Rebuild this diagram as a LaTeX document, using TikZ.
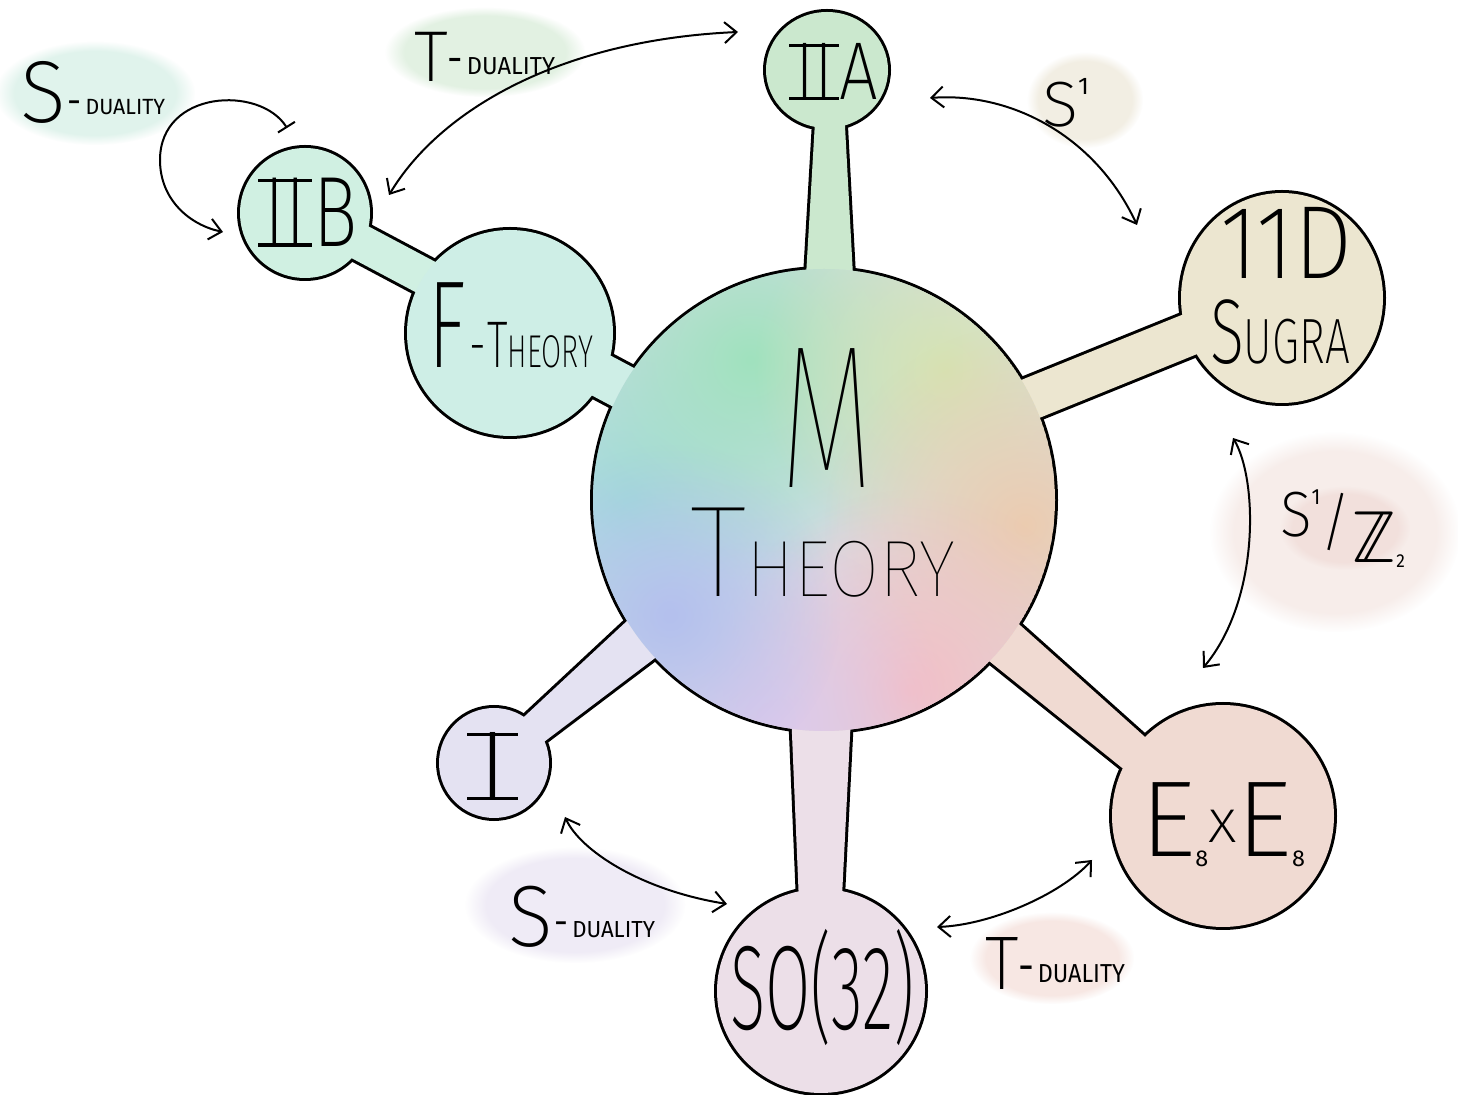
\documentclass[tikz,border=0pt]{standalone}
\usepackage{fontspec}
\usepackage{graphicx}
\usetikzlibrary{calc,fadings,arrows.meta}

\newcommand\pickfamily[3]{\IfFontExistsTF{#2}{\newfontfamily#1{#2}}{#3}}
\pickfamily\fthin{FiraSans-Thin.otf}{\pickfamily\fthin{Fira Sans Thin}{\pickfamily\fthin{FiraSans-Light.otf}{\newfontfamily\fthin{Fira Sans}}}}
\pickfamily\fxl{FiraSans-ExtraLight.otf}{\pickfamily\fxl{Fira Sans ExtraLight}{\pickfamily\fxl{FiraSans-Light.otf}{\newfontfamily\fxl{Fira Sans}}}}
\newfontfamily\freg{Fira Sans}
\pickfamily\fbb{latinmodern-math.otf}{\newfontfamily\fbb{DejaVu Sans}}

% roman numeral with bars spanning the strokes
\newcommand\Rn[1]{\setbox0=\hbox{\kern0.09em #1\kern0.09em}%
  \rlap{\rule{\wd0}{0.035em}}%
  \rlap{\raisebox{\dimexpr\ht0-0.035em\relax}{\rule{\wd0}{0.035em}}}%
  \box0}
\newcommand\fs[1]{\fontsize{#1}{#1}\selectfont}

% tapered stem between two coordinates
\newcommand\stem[5]{\path[#5] ($(#1)!#3!90:(#2)$) -- ($(#2)!#4!-90:(#1)$) -- ($(#2)!#4!90:(#1)$) -- ($(#1)!#3!-90:(#2)$) -- cycle;}

\definecolor{gIIA}{RGB}{203,232,206}
\definecolor{gIIB}{RGB}{208,240,226}
\definecolor{gF}{RGB}{206,238,230}
\definecolor{gD}{RGB}{236,230,208}
\definecolor{gE}{RGB}{240,218,210}
\definecolor{gSO}{RGB}{236,223,232}
\definecolor{gI}{RGB}{228,226,242}
\definecolor{gMbase}{RGB}{216,221,232}
\definecolor{bGreen}{RGB}{160,226,190}
\definecolor{bYel}{RGB}{214,228,178}
\definecolor{bPeach}{RGB}{236,204,176}
\definecolor{bPink}{RGB}{245,190,196}
\definecolor{bLav}{RGB}{220,202,236}
\definecolor{bBlue}{RGB}{180,192,238}
\definecolor{bCyan}{RGB}{160,218,222}
\definecolor{smS}{RGB}{224,243,236}
\definecolor{smT}{RGB}{226,241,226}
\definecolor{smA}{RGB}{242,238,227}
\definecolor{smZ}{RGB}{247,237,234}
\definecolor{smZi}{RGB}{242,224,220}
\definecolor{smSb}{RGB}{239,235,246}
\definecolor{smTb}{RGB}{247,231,227}

\tikzfading[name=blob, inner color=transparent!0, outer color=transparent!100]

\begin{document}
\begin{tikzpicture}[x=0.5pt,y=-0.5pt,
  lbl/.style={anchor=base west,inner sep=0pt,outer sep=0pt},
  outl/.style={draw=black,line width=3pt},
  smudge/.style={path fading=circle with fuzzy edge 20 percent},
  >={Straight Barb[length=6pt,width=10.5pt]},
  arr/.style={line width=1pt,line cap=round,<->},
  looparr/.style={line width=1pt,line cap=round,{Bar[width=10pt]}->}]
\useasboundingbox (0,0) rectangle (1458,1095);
\fill[white] (0,0) rectangle (1458,1095);

% centres
\coordinate (cM) at (824,500);
\coordinate (cIIA) at (827,70);
\coordinate (cD) at (1282,298);
\coordinate (cE) at (1223,816);
\coordinate (cSO) at (821,991);
\coordinate (cI) at (494,763);
\coordinate (cF) at (510,333);
\coordinate (cB) at (305,213);
% stem ends
\coordinate (sIIAa) at (830,70);  \coordinate (sIIAb) at (829,500);
\coordinate (sDa) at (850,472);   \coordinate (sDb) at (1282,297);
\coordinate (sEa) at (824,490);   \coordinate (sEb) at (1225,830);
\coordinate (sSOa) at (822,500);  \coordinate (sSOb) at (820,991);
\coordinate (sIa) at (824,486);   \coordinate (sIb) at (494,763);
\coordinate (sFa) at (824,494);   \coordinate (sFb) at (510,327);
\coordinate (sBa) at (510,322);   \coordinate (sBb) at (305,213);

% label smudges
\fill[smS,smudge] (95,93) ellipse [x radius=100,y radius=52];
\fill[smT,smudge] (485,52) ellipse [x radius=100,y radius=45];
\fill[smA,smudge] (1085,100) ellipse [x radius=58,y radius=48];
\fill[smZ,smudge] (1335,532) ellipse [x radius=125,y radius=100];
\fill[smZi,smudge] (1345,528) ellipse [x radius=65,y radius=42];
\fill[smSb,smudge] (575,905) ellipse [x radius=110,y radius=58];
\fill[smTb,smudge] (1052,958) ellipse [x radius=82,y radius=46];

% outlines (union)
\stem{sIIAb}{sIIAa}{18pt}{6pt}{outl}
\stem{sDa}{sDb}{10.5pt}{10.5pt}{outl}
\stem{sEa}{sEb}{15pt}{8pt}{outl}
\stem{sSOa}{sSOb}{19.9pt}{8.65pt}{outl}
\stem{sIa}{sIb}{17.8pt}{6.65pt}{outl}
\stem{sFa}{sFb}{11pt}{11pt}{outl}
\stem{sBa}{sBb}{9pt}{9pt}{outl}
\draw[outl] (cM) circle (231);
\draw[outl] (cIIA) ellipse [x radius=61,y radius=58];
\draw[outl] (cD) ellipse [x radius=101,y radius=105];
\draw[outl] (cE) circle (111);
\draw[outl] (cSO) ellipse [x radius=104,y radius=102];
\draw[outl] (cI) circle (55);
\draw[outl] (cF) circle (103);
\draw[outl] (cB) circle (65);

% fills
\stem{sIIAb}{sIIAa}{18pt}{6pt}{fill=gIIA}
\stem{sDa}{sDb}{10.5pt}{10.5pt}{fill=gD}
\stem{sEa}{sEb}{15pt}{8pt}{fill=gE}
\stem{sSOa}{sSOb}{19.9pt}{8.65pt}{fill=gSO}
\stem{sIa}{sIb}{17.8pt}{6.65pt}{fill=gI}
\stem{sFa}{sFb}{11pt}{11pt}{fill=gF}
\stem{sBa}{sBb}{9pt}{9pt}{fill=gIIB}
\fill[gIIA] (cIIA) ellipse [x radius=61,y radius=58];
\fill[gD] (cD) ellipse [x radius=101,y radius=105];
\fill[gE] (cE) circle (111);
\fill[gSO] (cSO) ellipse [x radius=104,y radius=102];
\fill[gI] (cI) circle (55);
\fill[gF] (cF) circle (103);
\fill[gIIB] (cB) circle (65);
\begin{scope}
  \clip (cM) circle (231);
  \fill[gMbase] (cM) circle (231);
  \fill[bCyan,path fading=blob] (630,500) circle (210);
  \fill[bGreen,path fading=blob] (750,360) circle (220);
  \fill[bYel,path fading=blob] (945,370) circle (190);
  \fill[bPeach,path fading=blob] (1025,525) circle (200);
  \fill[bPink,path fading=blob] (910,690) circle (200);
  \fill[bLav,path fading=blob] (770,720) circle (180);
  \fill[bBlue,path fading=blob] (670,615) circle (170);
\end{scope}

% labels
\node[lbl] (tM) at (780,488) {\resizebox{46.5pt}{\height}{\fthin\fs{102}M}};
\node[lbl] (tTheory) at (690,597) {\resizebox{132.5pt}{\height}{\fthin\fs{65}T\fs{40}HEORY}};
\node[lbl] (tF) at (428,368) {\resizebox{82.5pt}{\height}{\fxl\fs{62}F\kern3pt\fs{33}-\kern1pt T\fs{23}HEORY}};
\node[lbl] (tIIB) at (258,247) {\resizebox{50pt}{\height}{\fxl\fs{50}\Rn{II}\kern1pt B}};
\node[lbl] (tIIA) at (789,100) {\resizebox{44.5pt}{\height}{\fxl\fs{41}\Rn{II}A}};
\node[lbl] (tD) at (1220,279) {\resizebox{66pt}{\height}{\fxl\fs{52}11D}};
\node[lbl] (tSugra) at (1210,364) {\resizebox{70pt}{\height}{\fxl\fs{46}S\fs{32}UGRA}};
\node[lbl] (tE) at (1140,857) {\resizebox{82.5pt}{\height}{\fxl\fs{54}E\raisebox{-5pt}{\freg\fs{11.5}8}\raisebox{7pt}{\fxl\fs{31}x}E\raisebox{-5pt}{\freg\fs{11.5}8}}};
\node[lbl] (tSO) at (730,1030) {\resizebox{92.5pt}{\height}{\fxl\fs{60}SO(32)}};
\node[lbl] (tI) at (467,800) {\resizebox{25.5pt}{\height}{\fxl\fs{49}\Rn{I}}};

\node[lbl] (lTtop) at (414,82) {\resizebox{70.5pt}{\height}{\fxl\fs{36}T\raisebox{4.5pt}{\freg\fs{20}-}\kern2pt\raisebox{3.5pt}{\freg\fs{12.3}DUALITY}}};
\node[lbl] (lStop) at (20,123) {\resizebox{72.5pt}{\height}{\fxl\fs{44}S\kern1pt\raisebox{4.5pt}{\freg\fs{18}-}\kern2pt\raisebox{4pt}{\freg\fs{11}DUALITY}}};
\node[lbl] (lSbot) at (508,947) {\resizebox{73.5pt}{\height}{\fxl\fs{43.5}S\kern1pt\raisebox{6pt}{\freg\fs{18}-}\kern2pt\raisebox{4.5pt}{\freg\fs{11.6}DUALITY}}};
\node[lbl] (lTbot) at (985,990) {\resizebox{70pt}{\height}{\fxl\fs{38}T\raisebox{4pt}{\freg\fs{22}-}\kern2pt\raisebox{3.5pt}{\freg\fs{13}DUALITY}}};
\node[lbl] (lS1) at (1042,127) {\resizebox{23.5pt}{\height}{\fxl\fs{32}S\raisebox{16pt}{\freg\fs{12}1}}};
\node[lbl] (lS1Z2) at (1280,537) {\resizebox{62.5pt}{\height}{\fxl\fs{32}S\raisebox{16pt}{\freg\fs{11}1}\raisebox{-4pt}{\fxl\fs{32}/}\raisebox{-13pt}{\fbb\fs{37}ℤ}\raisebox{-15.5pt}{\freg\fs{9.4}2}}};

% connectors
\coordinate (aT1) at (389,195);  \coordinate (aT2) at (738,32);
\coordinate (aS1) at (930,98);   \coordinate (aS2) at (1137,225);
\coordinate (aZ1) at (1233,438); \coordinate (aZ2) at (1203,668);
\coordinate (aSb1) at (565,817); \coordinate (aSb2) at (727,904);
\coordinate (aTb1) at (937,927); \coordinate (aTb2) at (1092,860);
\coordinate (aL1) at (287,128);  \coordinate (aL2) at (223,232);
\draw[arr] (aT1) .. controls (440,110) and (560,40) .. (aT2);
\draw[arr] (aS1) .. controls (1010,92) and (1095,135) .. (aS2);
\draw[arr] (aZ1) .. controls (1258,480) and (1260,600) .. (aZ2);
\draw[arr] (aSb1) .. controls (580,850) and (640,890) .. (aSb2);
\draw[arr] (aTb1) .. controls (990,925) and (1060,895) .. (aTb2);
\draw[looparr] (aL1) .. controls (260,85) and (160,90) .. (160,160) .. controls (160,200) and (190,225) .. (aL2);
\end{tikzpicture}
\end{document}
